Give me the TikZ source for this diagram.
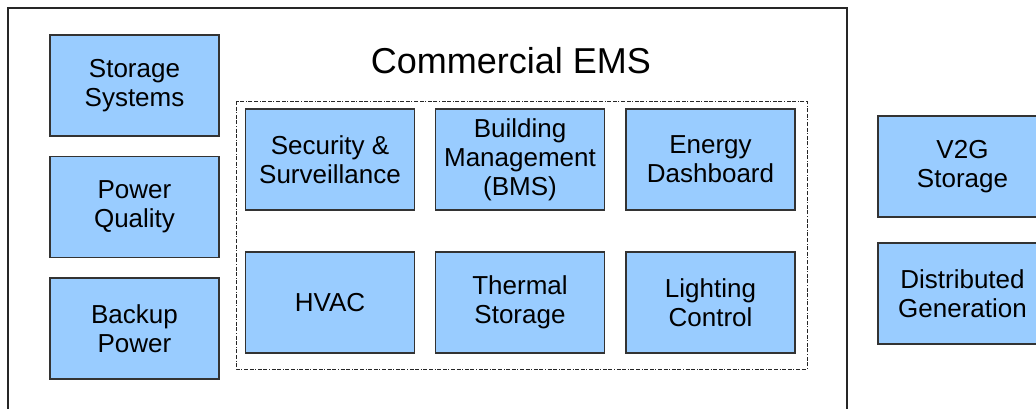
\documentclass[tikz,border=0pt]{standalone}
\usepackage{fontspec}
\setmainfont{Liberation Sans}
\definecolor{boxfill}{HTML}{99CCFF}
\definecolor{boxline}{HTML}{333333}
\begin{document}
\begin{tikzpicture}[x=1pt,y=-1pt,
  blk/.style={draw=boxline, line width=1.2pt, fill=boxfill, minimum width=169pt, minimum height=101pt, align=center, font=\fontsize{26}{29}\selectfont, inner sep=0pt},
  frame/.style={draw=black!85, line width=1.3pt},
  group/.style={draw=black!85, line width=0.8pt, dash pattern=on 4pt off 1.6pt on 4pt off 1.6pt on 1pt off 1.6pt}]
\useasboundingbox (0,0) rectangle (1036,408);
\clip (0,0) rectangle (1036,408);
\draw[frame] (8,8) rectangle (847,430);
\node[anchor=base, font=\fontsize{36}{40}\selectfont] (title) at (511,73) {Commercial EMS};
\draw[group] (236,101) rectangle (807,369);
\node[blk] (storage) at (134.5,85.5) {Storage\\Systems};
\node[blk] (pq) at (134.5,207) {Power\\Quality};
\node[blk] (backup) at (134.5,328.5) {Backup\\Power};
\node[blk] (sec) at (330,159.5) {Security \&\\Surveillance};
\node[blk] (bms) at (520,159.5) {Building\\Management\\(BMS)};
\node[blk] (dash) at (710.5,159.5) {Energy\\Dashboard};
\node[blk] (hvac) at (330,302.5) {HVAC};
\node[blk] (thermal) at (520,302.5) {Thermal\\Storage};
\node[blk] (light) at (710.5,302.5) {Lighting\\Control};
\node[blk] (v2g) at (962.5,166.5) {V2G\\Storage};
\node[blk] (dg) at (962.5,293.5) {Distributed\\Generation};
\end{tikzpicture}
\end{document}
